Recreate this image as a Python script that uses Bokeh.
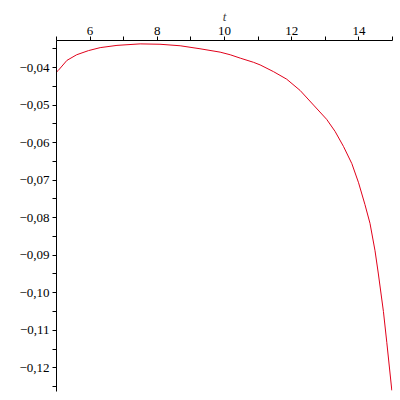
from bokeh.plotting import figure
from bokeh.models import FixedTicker, CustomJSTickFormatter, LinearAxis, Range1d
from bokeh.embed import file_html
from bokeh.resources import INLINE

# data
t_vals = [5.0, 5.05, 5.31, 5.6, 5.95, 6.3, 6.8, 7.49, 8.08, 8.68, 9.27, 9.87, 10.17,
          10.47, 10.86, 11.06, 11.46, 11.85, 12.25, 12.65, 13.04, 13.29, 13.54, 13.79,
          13.99, 14.18, 14.33, 14.48, 14.58, 14.73, 14.83, 14.98]
y_vals = [-0.0412, -0.0408, -0.0381, -0.0366, -0.0355, -0.0347, -0.0341, -0.0337, -0.0338,
          -0.0342, -0.0350, -0.0359, -0.0366, -0.0375, -0.0386, -0.0393, -0.0411, -0.0431,
          -0.0461, -0.0500, -0.0538, -0.0570, -0.0610, -0.0656, -0.0707, -0.0765, -0.0815,
          -0.0888, -0.0950, -0.1050, -0.1132, -0.1260]

x_major = [6, 8, 10, 12, 14]
x_minor = [5, 7, 9, 11, 13, 15]
y_major = [-0.04, -0.05, -0.06, -0.07, -0.08, -0.09, -0.10, -0.11, -0.12]
y_minor = [-0.035, -0.045, -0.055, -0.065, -0.075, -0.085, -0.095, -0.105, -0.115, -0.125]

FONT = "Liberation Serif"

p = figure(width=398, height=399, output_backend="svg", toolbar_location=None,
           x_range=Range1d(5, 15), y_range=Range1d(-0.1263, -0.0328),
           x_axis_location=None, y_axis_location=None)
p.min_border_left = 56
p.min_border_right = 6
p.min_border_top = 40
p.min_border_bottom = 8
p.outline_line_color = None
p.xgrid.visible = False
p.ygrid.visible = False
p.background_fill_color = "white"
p.border_fill_color = "white"

p.line(t_vals, y_vals, line_color="#e0001a", line_width=1)

xa = LinearAxis(axis_label="t")
xa.ticker = FixedTicker(ticks=x_major, minor_ticks=x_minor)
ya = LinearAxis()
ya.ticker = FixedTicker(ticks=y_major, minor_ticks=y_minor)
ya.formatter = CustomJSTickFormatter(code="""
const s = Math.abs(tick).toFixed(2).replace('.', ',');
return (tick < 0 ? '\u2212' : '') + s;
""")
for ax in (xa, ya):
    ax.axis_line_color = "black"
    ax.axis_line_width = 1
    ax.major_tick_line_color = "black"
    ax.minor_tick_line_color = "black"
    ax.major_tick_out = 4
    ax.major_tick_in = 0
    ax.minor_tick_out = 4
    ax.minor_tick_in = 0
    ax.major_label_text_font = FONT
    ax.major_label_text_font_size = "13px"
    ax.major_label_text_color = "black"
    ax.major_label_standoff = 3
xa.axis_label_text_font = FONT
xa.axis_label_text_font_style = "italic"
xa.axis_label_text_font_size = "13px"
xa.axis_label_standoff = 0
xa.major_label_standoff = 2
p.add_layout(xa, "above")
p.add_layout(ya, "left")

open("out.html", "w").write(file_html(p, INLINE))
